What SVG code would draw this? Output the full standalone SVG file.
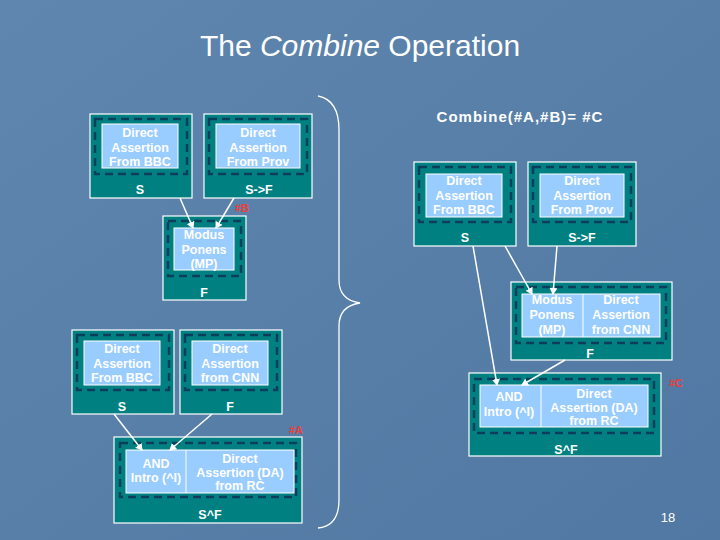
<svg xmlns="http://www.w3.org/2000/svg" width="720" height="540" viewBox="0 0 720 540">
<defs>
<linearGradient id="bg" x1="0" y1="0" x2="1" y2="1"><stop offset="0" stop-color="#5f86ae"/><stop offset="1" stop-color="#5078a2"/></linearGradient>
<marker id="ah" markerWidth="8" markerHeight="8" refX="6" refY="4" orient="auto" markerUnits="userSpaceOnUse"><path d="M0,0 L7,4 L0,8 Z" fill="#fff"/></marker>
</defs>
<style>
.o{fill:#008080;stroke:#fff;stroke-width:1.2}
.d{fill:none;stroke:#0d3d5c;stroke-width:2.5;stroke-dasharray:8,5}
.i{fill:#99ccff;stroke:#fff;stroke-width:1}
.t{font-family:"Liberation Sans",Arial,sans-serif;font-weight:bold;font-size:12.5px;fill:#fff;text-anchor:middle}
.r{font-family:"Liberation Sans",Arial,sans-serif;font-weight:bold;font-size:11px;fill:#e84040;text-anchor:middle}
.c{stroke:#fff;stroke-width:1.5;fill:none;marker-end:url(#ah)}
</style>
<rect width="720" height="540" fill="url(#bg)"/>
<text x="360" y="56" font-family="Liberation Sans,Arial,sans-serif" font-size="30" fill="#fff" text-anchor="middle">The <tspan font-style="italic">Combine</tspan> Operation</text>
<text x="520" y="122" class="t" style="font-size:15px;letter-spacing:1px">Combine(#A,#B)= #C</text>
<path d="M318,96 Q339,100 339,130 L339,280 Q339,300 360,303 Q339,306 339,326 L339,500 Q339,526 318,528" fill="none" stroke="#fff" stroke-width="1.3"/>

<g id="bbc1"><rect class="o" x="90" y="114" width="102" height="84"/><rect class="d" x="95" y="119" width="92" height="55"/><rect class="i" x="102" y="124" width="76" height="44"/><text class="t" x="140" y="137">Direct</text><text class="t" x="140" y="152">Assertion</text><text class="t" x="140" y="166">From BBC</text><text class="t" x="140" y="194">S</text></g>
<g id="prov1"><rect class="o" x="204" y="114" width="108" height="84"/><rect class="d" x="209" y="119" width="98" height="55"/><rect class="i" x="216" y="124" width="84" height="44"/><text class="t" x="258" y="137">Direct</text><text class="t" x="258" y="152">Assertion</text><text class="t" x="258" y="166">From Prov</text><text class="t" x="259" y="194">S-&gt;F</text></g>
<text class="r" x="242" y="212">#B</text>
<g id="mp1"><rect class="o" x="163" y="216" width="83" height="84"/><rect class="d" x="168" y="221" width="73" height="55"/><rect class="i" x="174" y="228" width="60" height="42"/><text class="t" x="204" y="239">Modus</text><text class="t" x="204" y="254">Ponens</text><text class="t" x="204" y="268">(MP)</text><text class="t" x="204" y="297">F</text></g>

<g id="bbc2"><rect class="o" x="72" y="330" width="102" height="84"/><rect class="d" x="77" y="335" width="92" height="55"/><rect class="i" x="84" y="341" width="76" height="44"/><text class="t" x="122" y="353">Direct</text><text class="t" x="122" y="368">Assertion</text><text class="t" x="122" y="382">From BBC</text><text class="t" x="122" y="411">S</text></g>
<g id="cnn2"><rect class="o" x="180" y="330" width="102" height="84"/><rect class="d" x="185" y="335" width="92" height="55"/><rect class="i" x="192" y="341" width="76" height="44"/><text class="t" x="230" y="353">Direct</text><text class="t" x="230" y="368">Assertion</text><text class="t" x="230" y="382">from CNN</text><text class="t" x="230" y="411">F</text></g>
<text class="r" x="296" y="434">#A</text>
<g id="and2"><rect class="o" x="114" y="437" width="188" height="86"/><rect class="d" x="120" y="443" width="176" height="54"/><rect class="i" x="126" y="450" width="168" height="43"/><line x1="186" y1="450" x2="186" y2="493" stroke="#fff"/><text class="t" x="156" y="468">AND</text><text class="t" x="156" y="482">Intro (^I)</text><text class="t" x="240" y="463">Direct</text><text class="t" x="240" y="477">Assertion (DA)</text><text class="t" x="240" y="490">from RC</text><text class="t" x="210" y="519">S^F</text></g>

<g id="bbc3"><rect class="o" x="414" y="162" width="102" height="84"/><rect class="d" x="419" y="167" width="92" height="55"/><rect class="i" x="426" y="174" width="76" height="43"/><text class="t" x="464" y="185">Direct</text><text class="t" x="464" y="200">Assertion</text><text class="t" x="464" y="214">From BBC</text><text class="t" x="465" y="242">S</text></g>
<g id="prov3"><rect class="o" x="528" y="162" width="108" height="84"/><rect class="d" x="533" y="167" width="98" height="55"/><rect class="i" x="540" y="174" width="84" height="43"/><text class="t" x="582" y="185">Direct</text><text class="t" x="582" y="200">Assertion</text><text class="t" x="582" y="214">From Prov</text><text class="t" x="582" y="242">S-&gt;F</text></g>
<g id="mp3"><rect class="o" x="511" y="282" width="161" height="78"/><rect class="d" x="516" y="287" width="150" height="56"/><rect class="i" x="522" y="294" width="138" height="43"/><line x1="583" y1="294" x2="583" y2="337" stroke="#fff"/><text class="t" x="552" y="304">Modus</text><text class="t" x="552" y="319">Ponens</text><text class="t" x="552" y="334">(MP)</text><text class="t" x="621" y="304">Direct</text><text class="t" x="621" y="319">Assertion</text><text class="t" x="621" y="334">from CNN</text><text class="t" x="590" y="358">F</text></g>
<text class="r" x="676" y="387">#C</text>
<g id="and3"><rect class="o" x="469" y="373" width="192" height="83"/><rect class="d" x="474" y="379" width="180" height="54"/><rect class="i" x="480" y="385" width="168" height="42"/><line x1="541" y1="385" x2="541" y2="427" stroke="#fff"/><text class="t" x="509" y="401">AND</text><text class="t" x="509" y="416">Intro (^I)</text><text class="t" x="594" y="398">Direct</text><text class="t" x="594" y="412">Assertion (DA)</text><text class="t" x="594" y="425">from RC</text><text class="t" x="566" y="454">S^F</text></g>

<g id="connectors">
<line class="c" x1="180" y1="198" x2="193" y2="228"/>
<line class="c" x1="234" y1="198" x2="216" y2="228"/>
<line class="c" x1="114" y1="414" x2="142" y2="450"/>
<line class="c" x1="212" y1="414" x2="170" y2="450"/>
<line class="c" x1="473" y1="246" x2="497" y2="385"/>
<line class="c" x1="505" y1="246" x2="532" y2="294"/>
<line class="c" x1="557" y1="246" x2="553" y2="294"/>
<line class="c" x1="565" y1="360" x2="522" y2="385"/>
</g>
<text x="668" y="522" font-family="Liberation Sans,Arial,sans-serif" font-size="13" fill="#fff" text-anchor="middle">18</text>
</svg>
